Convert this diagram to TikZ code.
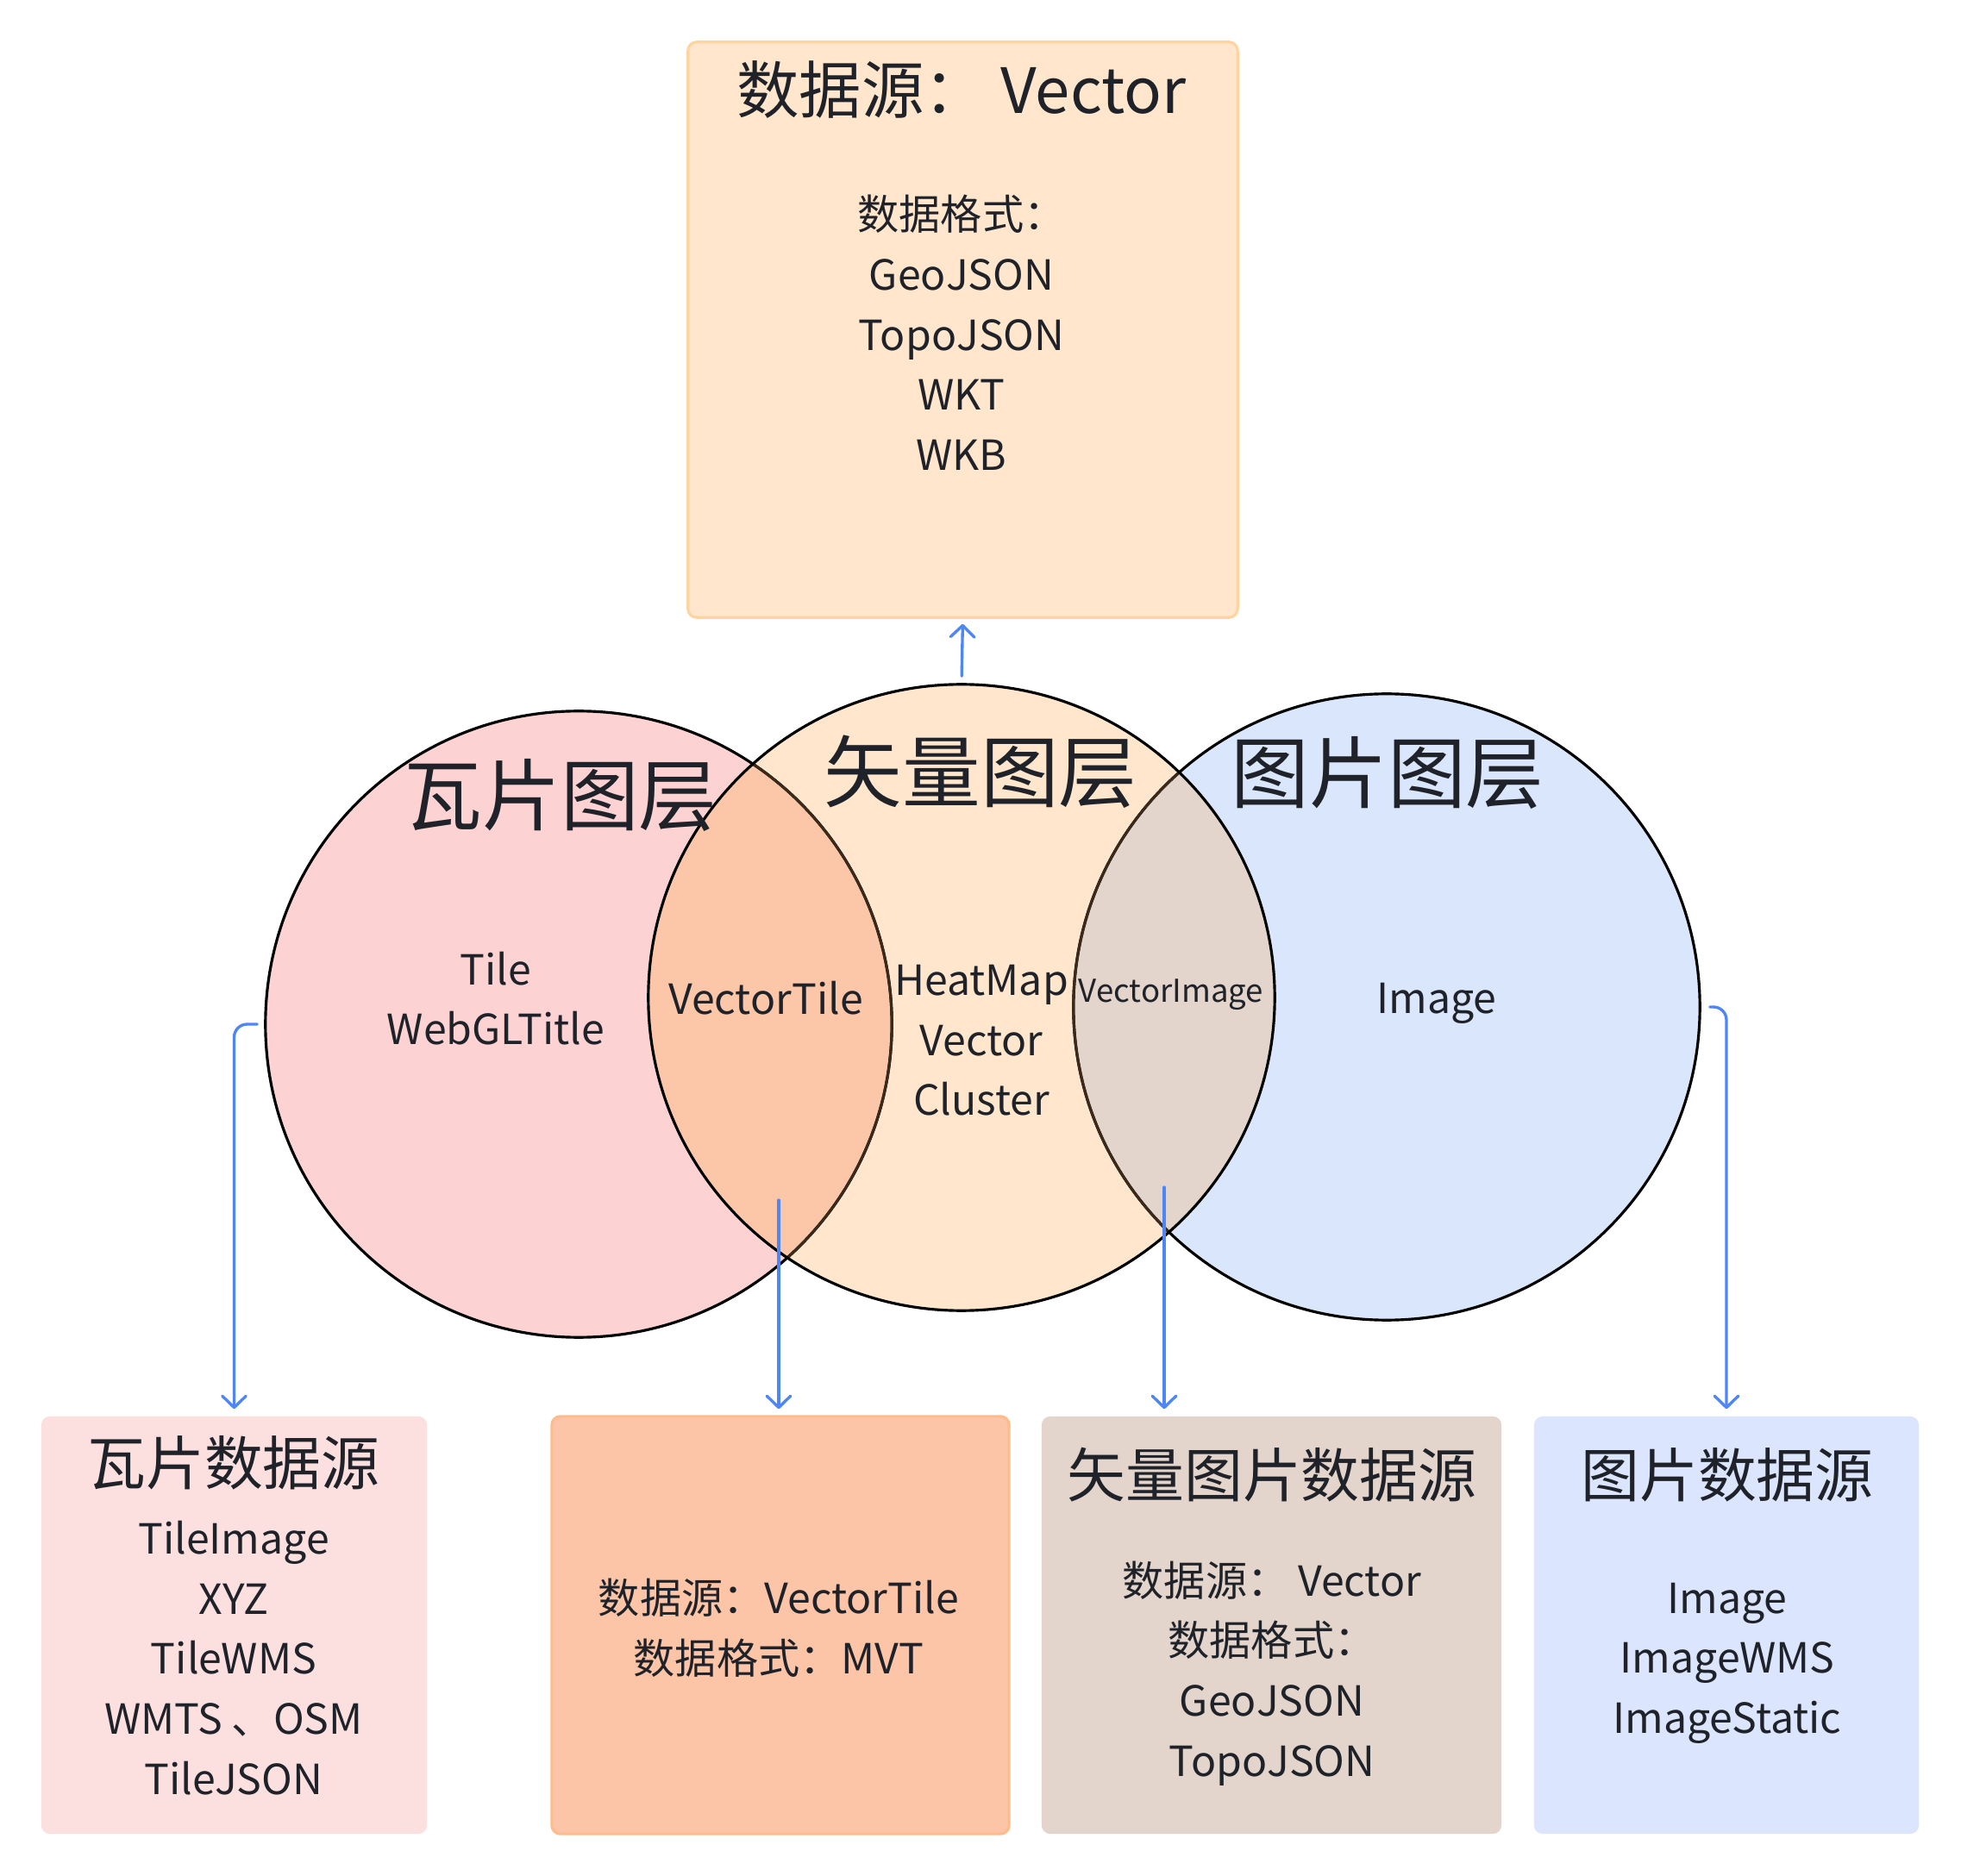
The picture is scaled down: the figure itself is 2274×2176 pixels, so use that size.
\documentclass[tikz,border=0pt]{standalone}
\usepackage{fontspec}
\setmainfont{Noto Sans CJK SC}
\usetikzlibrary{arrows.meta}

\definecolor{ink}{HTML}{1F2329}
\definecolor{tilefill}{HTML}{FDD2D2}
\definecolor{vecfill}{HTML}{FFE6CC}
\definecolor{imgfill}{HTML}{DAE6FC}
\definecolor{tilevec}{HTML}{FCC6A9}
\definecolor{vecimg}{HTML}{E3D5CB}
\definecolor{tilebox}{HTML}{FCE0E0}
\definecolor{vtbox}{HTML}{FCC5A8}
\definecolor{vtborder}{HTML}{FFBB8A}
\definecolor{topborder}{HTML}{FFD49F}
\definecolor{imgbox}{HTML}{DBE5FD}
\definecolor{arrowblue}{HTML}{4F86F7}
\definecolor{seam}{HTML}{3A2A1C}

\tikzset{
  body/.style={font=\fontsize{13.7pt}{19.8pt}\selectfont, align=center, text=ink, inner sep=0pt},
  small/.style={font=\fontsize{10.4pt}{12pt}\selectfont, align=center, text=ink, inner sep=0pt},
  bigtitle/.style={font=\fontsize{25.8pt}{30pt}\selectfont, text=ink, inner sep=0pt},
  boxtitle/.style={font=\fontsize{19.3pt}{24pt}\selectfont, text=ink, inner sep=0pt},
  panel/.style={rectangle, rounded corners=0.1cm, inner sep=0pt, line width=0.9pt},
  ring/.style={circle, minimum size=7.26cm, inner sep=0pt},
  link/.style={draw=arrowblue, line width=0.95pt, line cap=round, rounded corners=0.15cm,
    -{Straight Barb[length=3.8pt,width=7.8pt,line width=0.95pt,round]}},
}

\begin{document}
\begin{tikzpicture}[x=0.01cm,y=-0.01cm]
\useasboundingbox[fill=white] (0,0) rectangle (2274,2176);

% boxes
\node[panel, fill=vecfill, draw=topborder, minimum width=6.37cm, minimum height=6.67cm] (topbox) at (1116.5,382.5) {};
\node[panel, fill=tilebox, minimum width=4.47cm, minimum height=4.84cm] (box1) at (271.5,1885) {};
\node[panel, fill=vtbox, draw=vtborder, minimum width=5.30cm, minimum height=4.84cm] (box2) at (905,1885) {};
\node[panel, fill=vecimg, minimum width=5.33cm, minimum height=4.84cm] (box3) at (1474.5,1885) {};
\node[panel, fill=imgbox, minimum width=4.46cm, minimum height=4.84cm] (box4) at (2002,1885) {};

% circle fills
\fill[tilefill] (671,1188) circle[radius=3.63cm];
\fill[imgfill] (1608,1168) circle[radius=3.63cm];
\fill[vecfill] (1115,1157) circle[radius=3.63cm];
\begin{scope}
  \clip (671,1188) circle[radius=3.63cm];
  \fill[tilevec] (1115,1157) circle[radius=3.63cm];
\end{scope}
\begin{scope}
  \clip (1608,1168) circle[radius=3.63cm];
  \fill[vecimg] (1115,1157) circle[radius=3.63cm];
\end{scope}

% circle outlines
\node[ring, draw=black, line width=0.9pt] (tileC) at (671,1188) {};
\node[ring, draw=black, line width=0.9pt] (imgC) at (1608,1168) {};
\begin{scope}
  \clip (1115,1157) circle[radius=3.63cm];
  \draw[seam, line width=0.9pt] (671,1188) circle[radius=3.63cm];
  \draw[seam, line width=0.9pt] (1608,1168) circle[radius=3.63cm];
\end{scope}
\node[ring, draw=black, line width=0.9pt] (vecC) at (1115,1157) {};

% circle labels
\node[bigtitle] (tileT) at (650,922) {瓦片图层};
\node[bigtitle] (vecT) at (1137,895) {矢量图层};
\node[bigtitle] (imgT) at (1609,896) {图片图层};
\node[body] (tileL) at (575,1158) {Tile\\WebGLTitle};
\node[body] (vtL) at (888,1158) {VectorTile};
\node[body] (vecL) at (1138,1207) {HeatMap\\Vector\\Cluster};
\node[small] (viL) at (1358,1154) {VectorImage};
\node[body] (imgL) at (1666,1164) {Image};

% box texts
\node[font=\fontsize{20.6pt}{24pt}\selectfont, text=ink, inner sep=0pt] (topT) at (1115,104) {数据源： Vector};
\node[body] (topL) at (1115,386) {数据格式：\\GeoJSON\\TopoJSON\\WKT\\WKB};
\node[boxtitle] (b1T) at (271,1697) {瓦片数据源};
\node[body] (b1L) at (271,1923) {TileImage\\XYZ\\TileWMS\\WMTS 、OSM\\TileJSON};
\node[body] (b2L) at (903,1888) {数据源：VectorTile\\数据格式：MVT};
\node[boxtitle] (b3T) at (1475,1711) {矢量图片数据源};
\node[body] (b3L) at (1475,1941) {数据源： Vector\\数据格式：\\GeoJSON\\TopoJSON};
\node[boxtitle] (b4T) at (2003,1711) {图片数据源};
\node[body] (b4L) at (2003,1929) {Image\\ImageWMS\\ImageStatic};

% connectors
\coordinate (lensA) at (903,1392);
\coordinate (lensB) at (1350,1377);
\draw[link, shorten <=0.08cm, shorten >=0.06cm] (vecC.north) -- (topbox.south);
\draw[link, shorten <=0.08cm, shorten >=0.07cm] (tileC.west) -| (box1.north);
\draw[link, shorten <=0.10cm, shorten >=0.07cm] (imgC.east) -| (box4.north);
\draw[link, shorten >=0.07cm] (lensA) -- (lensA |- box2.north);
\draw[link, shorten >=0.07cm] (lensB) -- (lensB |- box3.north);
\end{tikzpicture}
\end{document}
